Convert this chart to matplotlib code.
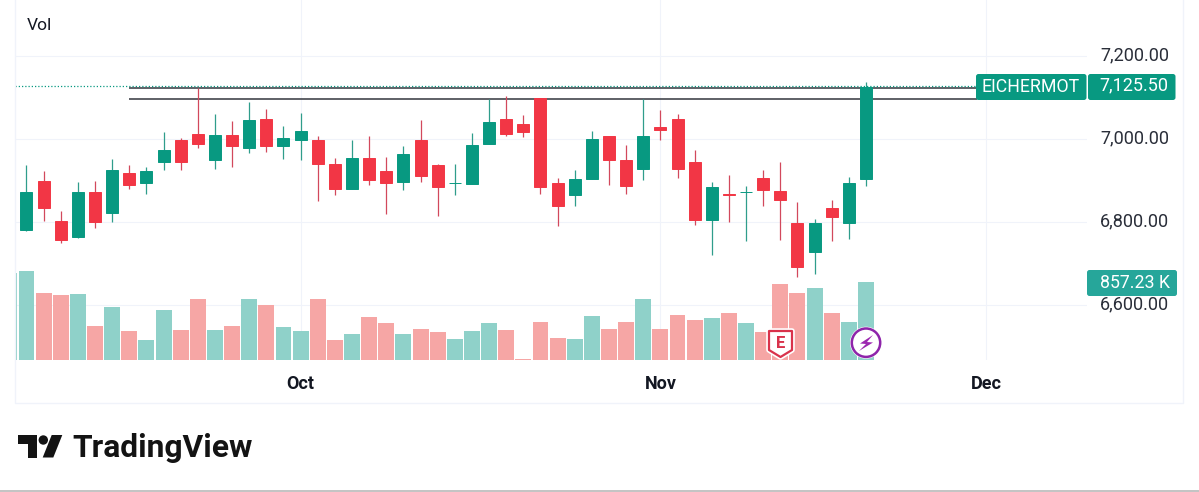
import matplotlib
matplotlib.use('Agg')
import matplotlib.pyplot as plt
import matplotlib.patheffects as pe
from matplotlib.patches import Circle, FancyBboxPatch, Polygon, Rectangle
from matplotlib.transforms import ScaledTranslation

plt.rcParams['font.family'] = ['Roboto', 'DejaVu Sans']

# daily candles
opens = [6781, 6899, 6804, 6764, 6874, 6823, 6920, 6895, 6946, 6999,
         7014, 6950, 7010, 6980, 7048, 6983, 6999, 6999, 6941, 6880,
         6956, 6924, 6896, 6999, 6939, 6894, 6892, 6990, 7048, 7037,
         7100, 6894, 6867, 6904, 7007, 6951, 6929, 7029, 7050, 6945,
         6805, 6869, 6872, 6906, 6875, 6798, 6729, 6834, 6799, 6905]
highs = [6937, 6924, 6827, 6898, 6900, 6953, 6937, 6933, 7017, 7004,
         7123, 7060, 7045, 7090, 7073, 7031, 7063, 7008, 6954, 6998,
         7007, 6957, 6984, 7046, 6941, 6940, 7016, 7098, 7104, 7058,
         7100, 6908, 6926, 7021, 7007, 6987, 7098, 7070, 7060, 6974,
         6896, 6915, 6888, 6925, 6946, 6850, 6808, 6854, 6910, 7138]
lows = [6778, 6802, 6751, 6762, 6787, 6800, 6880, 6868, 6925, 6925,
        6979, 6928, 6933, 6966, 6969, 6952, 6951, 6851, 6865, 6880,
        6889, 6819, 6877, 6896, 6816, 6865, 6892, 6990, 7009, 7005,
        6869, 6792, 6839, 6904, 6890, 6869, 6903, 6998, 6906, 6793,
        6721, 6800, 6754, 6839, 6758, 6669, 6675, 6754, 6759, 6887]
closes = [6873, 6835, 6757, 6874, 6801, 6926, 6890, 6924, 6974, 6946,
          6990, 7011, 6985, 7046, 6985, 7004, 7021, 6941, 6880, 6956,
          6902, 6895, 6964, 6911, 6886, 6895, 6987, 7042, 7014, 7018,
          6884, 6839, 6905, 7002, 6951, 6888, 7007, 7022, 6929, 6805,
          6885, 6865, 6873, 6878, 6854, 6693, 6798, 6813, 6895, 7125.5]
# thousands of shares
volumes = [979, 736, 718, 732, 379, 585, 316, 224, 552, 331,
           677, 328, 379, 677, 611, 368, 316, 670, 221, 291,
           475, 408, 287, 342, 309, 236, 320, 405, 328, 15,
           420, 243, 228, 489, 342, 416, 670, 339, 493, 438,
           464, 515, 408, 305, 839, 736, 791, 515, 416, 857.23]
prev_volume = 964

price_ticks = [6600, 6800, 7000, 7200]
month_pos = [16, 37, 56]
month_labels = ['Oct', 'Nov', 'Dec']
resistance_levels = [7123, 7098]

GREEN = '#089981'
RED = '#f23645'
VOL_GREEN = '#8fd1c9'
VOL_RED = '#f6a6a5'
GRID = '#f0f3fa'
TEXT = '#131722'

fig = plt.figure(figsize=(11.99, 4.92), dpi=100, facecolor='white')
ax = fig.add_axes([15 / 1199, 1 - 360 / 492, (1087 - 15) / 1199, 360 / 492])
ax_vol = ax.twinx()
ax_vol.set_ylim(0, 3975)
ax_vol.set_yticks([])

x = list(range(len(closes)))
colors = [GREEN if c >= o else RED for o, c in zip(opens, closes)]
wick_colors = ['#2f9d8b' if c >= o else '#d2485c' for o, c in zip(opens, closes)]
vol_colors = [VOL_GREEN if c >= o else VOL_RED for o, c in zip(opens, closes)]

ax.set_xlim(-0.671, 61.9)
ax.set_ylim(6468, 7336)
ax.yaxis.tick_right()
ax.set_yticks(price_ticks, [f'{p:,.2f}' for p in price_ticks])
ax.set_xticks(month_pos, month_labels, fontweight='bold')
ax.tick_params(axis='y', length=0, pad=9.5, labelsize=13, labelcolor='#2a2e39')
ax.tick_params(axis='x', length=0, pad=10.5, labelsize=13, labelcolor=TEXT)
ax.grid(True, color=GRID, lw=0.8)
ax.set_axisbelow(True)
for a in (ax, ax_vol):
    for s in a.spines.values():
        s.set_visible(False)
# the price labels sit a little above their grid lines
for lab in ax.get_yticklabels():
    lab.set_transform(lab.get_transform() + ScaledTranslation(0, 2 / 72, fig.dpi_scale_trans))

# levels and last price line
for level in resistance_levels:
    ax.hlines(level, 6, 55.5, color='#33363d', lw=1.1, zorder=2)
ax.axhline(closes[-1] + 3, color=GREEN, lw=0.9, ls=(0, (1, 1.6)), zorder=2)

ax.vlines(x, lows, highs, color=wick_colors, lw=0.9, zorder=3)
ax.bar(x, [abs(c - o) for o, c in zip(opens, closes)],
       bottom=[min(o, c) for o, c in zip(opens, closes)],
       width=0.70, color=colors, edgecolor=colors, lw=0.7, zorder=4)

ax_vol.bar(x, volumes, width=0.93, color=vol_colors)
ax_vol.bar([-1], [prev_volume], width=0.93, color=VOL_GREEN)

# overlay in pixel coordinates for the tags, markers and logo
ov = fig.add_axes([0, 0, 1, 1], facecolor='none')
ov.set_xlim(0, 1199)
ov.set_ylim(492, 0)
ov.axis('off')


def tag(x0, x1, y0, y1, color):
    ov.add_patch(FancyBboxPatch((x0 + 2, y0 + 2), x1 - x0 - 4, y1 - y0 - 4,
                                boxstyle='round,pad=2,rounding_size=2.5',
                                fc=color, ec='none'))


# pane border
ov.plot([15, 15, 1183, 1183], [0, 403, 403, 0], color=GRID, lw=1)
ov.add_patch(Rectangle((0, 490), 1199, 2, fc='#c4c4c4', ec='none'))

ov.text(27, 25.5, 'Vol', fontsize=12.5, color=TEXT, va='center')

tag(976, 1086.5, 74, 100, GREEN)
tag(1088, 1175.5, 74, 100, GREEN)
tag(1087, 1177, 270, 296, '#26a69a')
ov.text(1031, 87.5, 'EICHERMOT', fontsize=12.8, color='white', ha='center', va='center')
ov.text(1134, 85.5, f'{closes[-1]:,.2f}', fontsize=13, color='white', ha='center', va='center')
ov.text(1135, 283.5, f'{volumes[-1]:.2f} K', fontsize=12.8, color='white', ha='center', va='center')

# earnings marker
shield = Polygon([(769, 331), (792, 331), (792, 350), (780.5, 357), (769, 350)],
                 closed=True, fc='white', ec='#d9324b', lw=1.6, joinstyle='round',
                 path_effects=[pe.withStroke(linewidth=4, foreground='white')])
ov.add_patch(shield)
ov.text(780.5, 343, 'E', fontsize=12, fontweight='bold', color='#d9324b', ha='center', va='center')

# dividend/news marker
ov.add_patch(Circle((866, 342.7), 16, fc='white', ec='none'))
ov.add_patch(Circle((866, 342.7), 14.2, fc='white', ec='#8e24aa', lw=1.8))
ov.add_patch(Polygon([(873, 335), (860, 343.5), (866, 344), (859, 351),
                      (873, 342.5), (867, 342)], closed=True, fc='#9c27b0', ec='none'))

# TradingView logo
LOGO = '#131313'
ov.add_patch(Polygon([(18, 435), (36.7, 435), (36.7, 457.5), (27.5, 457.5), (27.5, 444), (18, 444)],
                     closed=True, fc=LOGO, ec='none'))
ov.add_patch(Circle((43.3, 440), 4.7, fc=LOGO, ec='none'))
ov.add_patch(Polygon([(62.3, 435), (51.7, 435), (42.7, 457.5), (53.3, 457.5)],
                     closed=True, fc=LOGO, ec='none'))
ov.text(72.5, 457, 'TradingView', fontsize=22.9, fontweight='bold', color=LOGO, va='baseline')

fig.savefig('out.png', dpi=100)
